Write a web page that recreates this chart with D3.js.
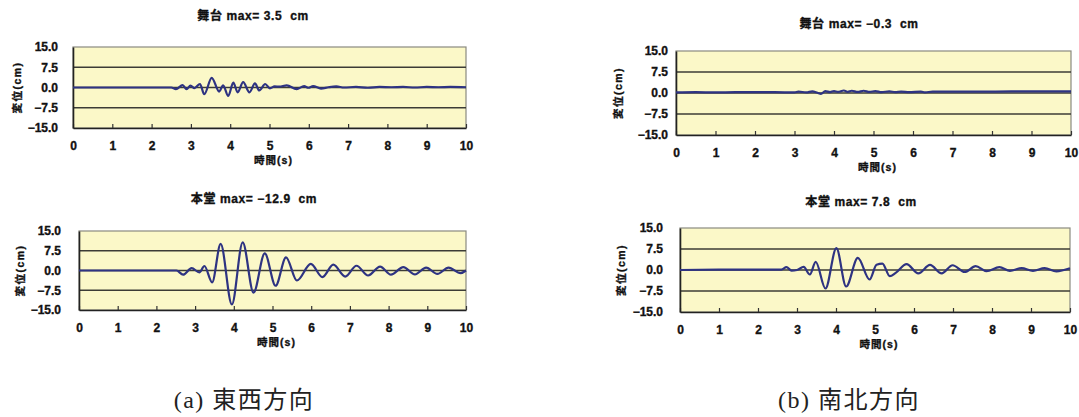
<!DOCTYPE html>
<html><head><meta charset="utf-8">
<script src="https://cdn.jsdelivr.net/npm/d3@7"></script>
<style>
html,body{margin:0;padding:0;background:#fff;}
svg{display:block;}
text{white-space:pre;}
</style></head>
<body>
<svg id="c" width="1079" height="417"></svg>
<script>
// ---- data ----
const xTicks = [0,1,2,3,4,5,6,7,8,9,10];
const yTicks = [15,7.5,0,-7.5,-15];
const yTickLabels = ["15.0","7.5","0.0","\u22127.5","\u221215.0"];
const xTitle = "時間(s)";
const yTitle = "変位(cm)";
const panelTitles = ["舞台 max= 3.5  cm","本堂 max= \u221212.9  cm","舞台 max= \u22120.3  cm","本堂 max= 7.8  cm"];
const captions = ["(a) 東西方向","(b) 南北方向"];

// 東西 舞台 [time(s), displacement(cm)]
const ewStage = [[0,0],[1,0],[2,0],[2.5,0],[2.62,-0.6],[2.79,0.9],[2.89,-0.6],[2.99,0.7],[3.09,-0.2],[3.23,1.3],[3.34,-2.5],[3.53,3.6],[3.72,-1.5],[3.82,0.8],[3.95,-3.1],[4.08,1.8],[4.19,-1.8],[4.33,2.0],[4.49,-1.8],[4.63,1.5],[4.74,-1.1],[4.89,1.3],[5.01,-0.3],[5.13,0.4],[5.25,0.3],[5.44,0.8],[5.69,-0.6],[5.88,0.5],[5.99,-0.1],[6.11,0.5],[6.31,-0.4],[6.5,0.1],[6.7,0.4],[6.9,0.0],[7.2,0.2],[7.5,-0.1],[7.8,0.2],[8.1,0.1],[8.4,0.2],[8.7,0.0],[9.0,0.2],[9.3,0.1],[9.6,0.2],[10,0.1]];
// 東西 本堂
const ewMain = [[0,0],[1,0],[2,0],[2.52,0],[2.69,-1.6],[2.91,0.9],[3.11,-0.7],[3.24,1.7],[3.44,-4.5],[3.66,10.1],[3.95,-12.9],[4.23,10.7],[4.51,-8.4],[4.80,6.5],[5.08,-5.8],[5.35,5.0],[5.63,-3.8],[5.99,2.5],[6.29,-2.5],[6.57,2.2],[6.88,-2.3],[7.17,1.8],[7.47,-1.9],[7.78,1.5],[8.06,-1.6],[8.38,1.3],[8.68,-1.5],[8.97,1.1],[9.26,-1.3],[9.55,1.1],[9.86,-1.0],[10,0]];
// 南北 舞台
const nsStage = [[0,0.2],[0.5,0.3],[1,0.2],[1.5,0.3],[2,0.3],[2.5,0.3],[3,0.2],[3.1,0.5],[3.3,0.2],[3.45,0.6],[3.58,0.1],[3.67,-0.3],[3.78,0.7],[3.9,0.3],[4.0,0.7],[4.1,0.4],[4.25,0.9],[4.35,0.4],[4.45,0.8],[4.6,0.4],[4.75,0.8],[4.9,0.4],[5.05,0.7],[5.2,0.3],[5.4,0.6],[5.55,0.3],[5.7,0.5],[5.9,0.3],[6.2,0.5],[6.3,0.2],[6.5,0.5],[7,0.5],[8,0.5],[9,0.6],[10,0.6]];
// 南北 本堂
const nsMain = [[0,0],[1,0.1],[2,0.1],[2.6,0.1],[2.73,1.0],[2.86,-0.2],[3.0,0],[3.17,1.1],[3.33,-1.6],[3.48,2.9],[3.73,-6.6],[4.01,7.8],[4.26,-5.9],[4.56,4.3],[4.86,-3.4],[5.04,1.9],[5.19,2.3],[5.38,-2.2],[5.53,-1.0],[5.81,2.1],[6.11,-1.2],[6.41,1.8],[6.71,-1.2],[6.99,1.7],[7.30,-0.7],[7.58,1.4],[7.86,-0.4],[8.19,1.0],[8.46,-0.3],[8.76,0.7],[9.05,-0.3],[9.35,0.7],[9.65,-0.5],[10,0.6]];

// ---- layout ----
const panels = [
  {data: ewStage, title: panelTitles[0], l:73, r:466, t:47, b:128, titleX:253, titleY:16, yLabPad:15, yTitleX:17},
  {data: ewMain,  title: panelTitles[1], l:79, r:466, t:231, b:310, titleX:254, titleY:199, yLabPad:18, yTitleX:20},
  {data: nsStage, title: panelTitles[2], l:676, r:1071, t:51, b:135, titleX:859, titleY:24, yLabPad:8, yTitleX:618},
  {data: nsMain,  title: panelTitles[3], l:680, r:1070, t:228, b:312, titleX:861, titleY:202, yLabPad:17, yTitleX:621}
];

const svg = d3.select("#c");
const sansFont = "'Liberation Sans', Arial, 'Noto Sans CJK JP', sans-serif";

function heavy(sel, size) {
  sel.attr("font-family", sansFont).attr("font-size", size).attr("font-weight", "bold")
     .attr("fill", "#111").attr("stroke", "#111").attr("stroke-width", 0.35);
}

panels.forEach(p => {
  const x = d3.scaleLinear().domain([0,10]).range([p.l, p.r]);
  const y = d3.scaleLinear().domain([-15,15]).range([p.b, p.t]);
  const g = svg.append("g");

  g.append("rect").attr("x", p.l).attr("y", p.t).attr("width", p.r - p.l).attr("height", p.b - p.t)
    .attr("fill", "#FBF8C8").attr("stroke", "#8a8a80").attr("stroke-width", 1.2);

  // grid
  g.selectAll("line.grid").data(yTicks.filter(v => Math.abs(v) < 15)).join("line")
    .attr("x1", p.l).attr("x2", p.r).attr("y1", d => y(d)).attr("y2", d => y(d))
    .attr("stroke", "#3c3c36").attr("stroke-width", 1.3);

  // x axis
  const xa = g.append("g").attr("transform", `translate(0,${p.b})`)
    .call(d3.axisBottom(x).tickValues(xTicks).tickFormat(d3.format("d")).tickSizeInner(-4).tickSizeOuter(0).tickPadding(13));
  xa.select(".domain").attr("stroke", "#222").attr("stroke-width", 1.6);
  xa.selectAll(".tick line").attr("stroke", "#333").attr("stroke-width", 1.2);
  heavy(xa.selectAll("text"), 12);

  // y axis
  const ya = g.append("g").attr("transform", `translate(${p.l},0)`)
    .call(d3.axisLeft(y).tickValues(yTicks).tickFormat((d,i) => yTickLabels[i]).tickSize(0).tickPadding(p.yLabPad));
  ya.select(".domain").attr("stroke", "#222").attr("stroke-width", 1.6);
  heavy(ya.selectAll("text"), 12);

  // series
  const line = d3.line().x(d => x(d[0])).y(d => y(d[1])).curve(d3.curveMonotoneX);
  g.append("path").datum(p.data).attr("d", line).attr("fill", "none")
    .attr("stroke", "#2E3382").attr("stroke-width", 2.2).attr("stroke-linejoin", "round");

  // titles
  heavy(g.append("text").attr("x", p.titleX).attr("y", p.titleY).attr("text-anchor", "middle").attr("dominant-baseline", "central")
    .attr("letter-spacing", 0.6).text(p.title), 12);
  heavy(g.append("text").attr("x", (p.l + p.r) / 2 + 4).attr("y", p.b + 32).attr("text-anchor", "middle").attr("dominant-baseline", "central")
    .attr("letter-spacing", 1).text(xTitle), 10.5);
  heavy(g.append("text").attr("transform", `translate(${p.yTitleX},${(p.t + p.b) / 2}) rotate(-90)`)
    .attr("text-anchor", "middle").attr("dominant-baseline", "central")
    .attr("letter-spacing", 1.5).text(yTitle), 10.5);
});

// captions
const capX = [244, 849];
svg.selectAll("text.cap").data(captions).join("text").attr("class", "cap")
  .attr("x", (d,i) => capX[i]).attr("y", 408).attr("text-anchor", "middle")
  .attr("font-family", "'Liberation Serif', 'Times New Roman', 'Noto Sans CJK JP', serif")
  .attr("font-size", 24).attr("letter-spacing", 1.5).attr("fill", "#222").text(d => d);
</script>
</body></html>
